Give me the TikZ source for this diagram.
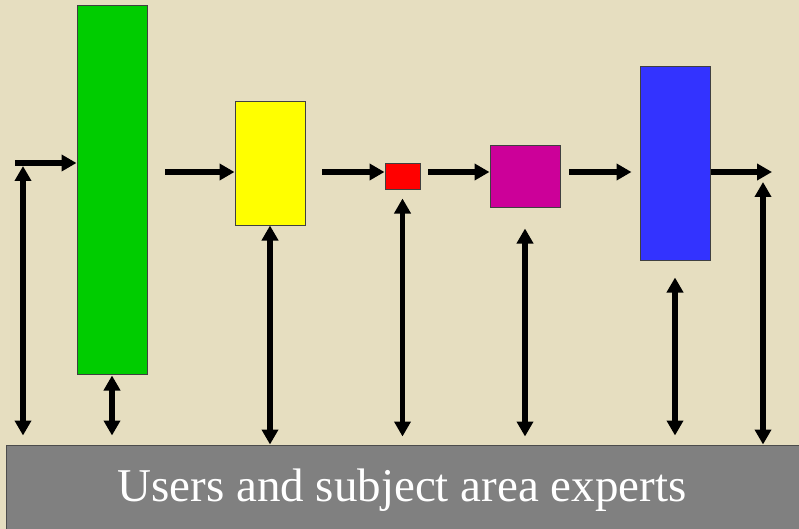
\documentclass[tikz,border=0pt]{standalone}
\usepackage{fontspec}
\setmainfont{Liberation Serif}
\usetikzlibrary{arrows.meta}
\definecolor{bgbeige}{RGB}{230,222,192}
\definecolor{cgreen}{RGB}{0,204,0}
\definecolor{cyellow}{RGB}{255,255,0}
\definecolor{cred}{RGB}{255,0,0}
\definecolor{cmag}{RGB}{204,0,153}
\definecolor{cblue}{RGB}{51,51,255}
\definecolor{cgray}{RGB}{128,128,128}
\begin{document}
\begin{tikzpicture}[x=1pt,y=-1pt,
  box/.style={draw=black!75,line width=1pt,inner sep=0pt,rectangle},
  tip/.tip={Triangle[width=16pt,length=15pt]},
  flow/.style={line width=5.5pt,-tip},
  both/.style={line width=5.5pt,tip-tip}]
\fill[bgbeige] (0,0) rectangle (799,529);
\useasboundingbox (0,0) rectangle (799,529);
% boxes
\node[box,fill=cgreen,minimum width=70pt,minimum height=368pt] (green) at (112,190) {};
\node[box,fill=cyellow,minimum width=70pt,minimum height=123pt] (yellow) at (270,163.5) {};
\node[box,fill=cred,minimum width=35pt,minimum height=26pt] (red) at (402.5,177) {};
\node[box,fill=cmag,minimum width=70pt,minimum height=62pt] (mag) at (525,177) {};
\node[box,fill=cblue,minimum width=70pt,minimum height=193pt] (blue) at (675,163.5) {};
\node[draw=black!70,line width=1pt,fill=cgray,inner sep=0pt,minimum width=800pt,minimum height=90pt,
  text=white,font=\fontsize{47}{50}\selectfont] (users) at (406,490)
  {\hspace*{-8pt}\raisebox{6pt}{Users and subject area experts}};
% free ends
\coordinate (inL) at (15,163);
\coordinate (lv) at (23,166);
\coordinate (gy) at (165,172);
\coordinate (yr) at (322,172);
\coordinate (rm) at (428,172);
\coordinate (mb) at (569,172);
\coordinate (outR) at (772,172);
\coordinate (rv) at (763,182);
% horizontal flow
\draw[flow] (inL) -- (inL -| green.west);
\draw[flow] (gy) -- (gy -| yellow.west);
\draw[flow] (yr) -- (yr -| red.west);
\draw[flow] (rm) -- (rm -| mag.west);
\draw[flow] (mb) -- ([xshift=-8pt]mb -| blue.west);
\draw[flow] (outR -| blue.east) -- (outR);
% vertical double arrows
\draw[both,shorten >=9pt] (lv) -- (lv |- users.north);
\draw[both,shorten >=9pt,shorten <=1pt] (green.south) -- (green.south |- users.north);
\draw[both] (yellow.south) -- (yellow.south |- users.north);
\draw[both,shorten <=8pt,shorten >=8pt] (red.south) -- (red.south |- users.north);
\draw[both,shorten <=20pt,shorten >=8pt] (mag.south) -- (mag.south |- users.north);
\draw[both,shorten <=17pt,shorten >=9pt] (blue.south) -- (blue.south |- users.north);
\draw[both] (rv) -- (rv |- users.north);
\end{tikzpicture}
\end{document}
